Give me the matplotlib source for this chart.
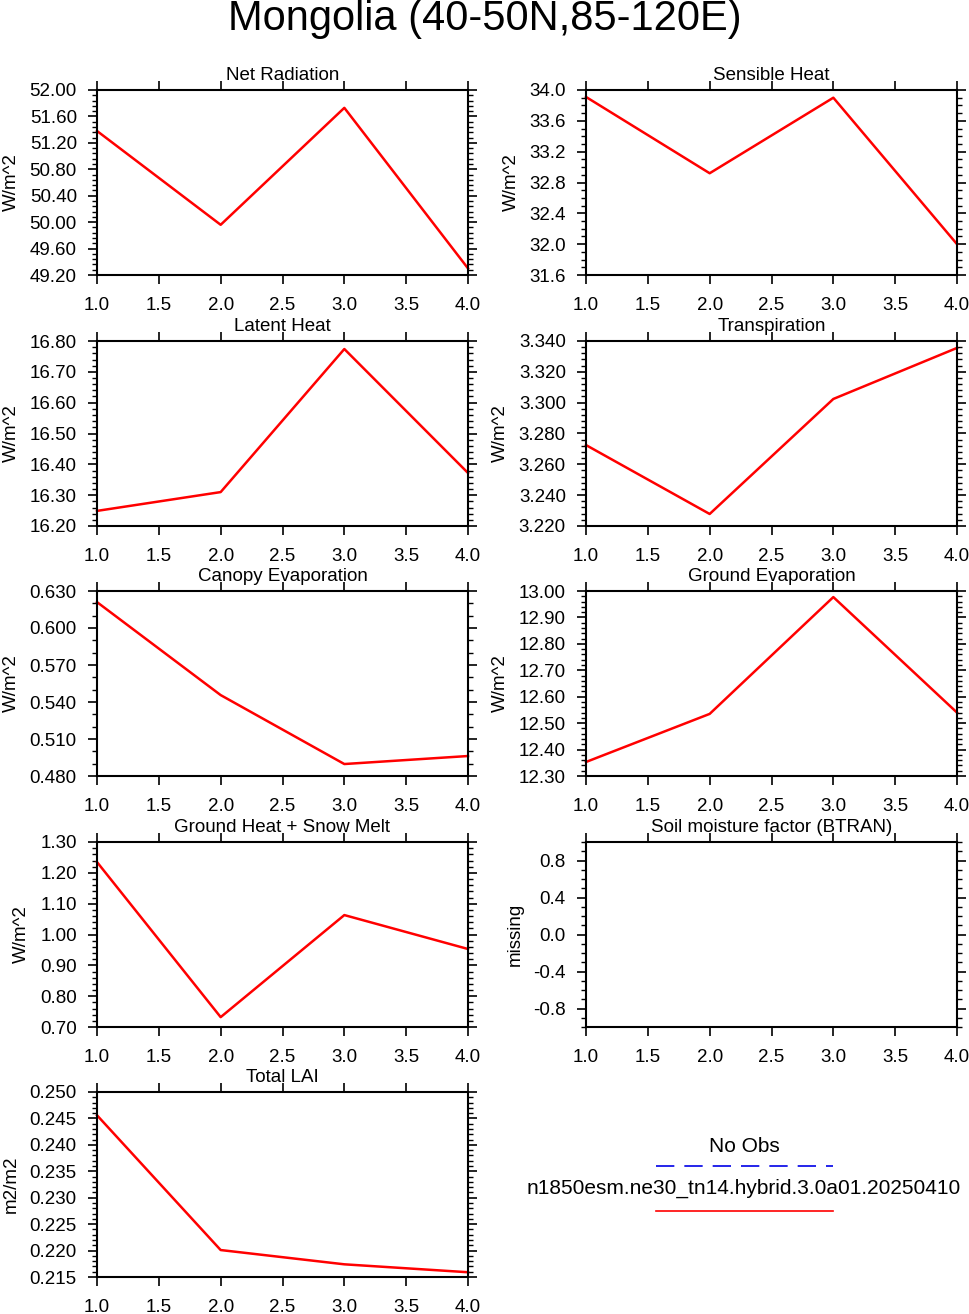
import matplotlib
matplotlib.use("Agg")
import matplotlib.pyplot as plt
import matplotlib.ticker as ticker
from matplotlib.lines import Line2D

plt.rcParams['font.family'] = ['Liberation Sans', 'DejaVu Sans']

# x axis (time step) shared by all panels
x_vals = [1.0, 2.0, 3.0, 4.0]
x_ticks = [1.0, 1.5, 2.0, 2.5, 3.0, 3.5, 4.0]

# series values
net_radiation = [51.38, 49.96, 51.73, 49.30]
sensible_heat = [33.91, 32.92, 33.90, 32.00]
latent_heat = [16.249, 16.310, 16.774, 16.372]
transpiration = [3.2725, 3.2278, 3.3024, 3.3355]
canopy_evap = [0.621, 0.5456, 0.4897, 0.4962]
ground_evap = [12.353, 12.535, 12.977, 12.540]
ground_heat = [1.235, 0.732, 1.063, 0.953]
btran = []  # missing
total_lai = [0.2456, 0.2201, 0.2174, 0.2159]

titles = ["Net Radiation", "Sensible Heat", "Latent Heat", "Transpiration",
          "Canopy Evaporation", "Ground Evaporation", "Ground Heat + Snow Melt",
          "Soil moisture factor (BTRAN)", "Total LAI"]
units = ["W/m^2", "W/m^2", "W/m^2", "W/m^2", "W/m^2", "W/m^2", "W/m^2", "missing", "m2/m2"]
series = [net_radiation, sensible_heat, latent_heat, transpiration, canopy_evap,
          ground_evap, ground_heat, btran, total_lai]

# (ymin, ymax, major step, minor step, label format)
y_axes = [(49.2, 52.0, 0.4, 0.08, "%.2f"),
          (31.6, 34.0, 0.4, 0.1, "%.1f"),
          (16.2, 16.8, 0.1, 0.02, "%.2f"),
          (3.22, 3.34, 0.02, 0.004, "%.3f"),
          (0.48, 0.63, 0.03, 0.01, "%.3f"),
          (12.3, 13.0, 0.1, 0.02, "%.2f"),
          (0.7, 1.3, 0.1, 0.02, "%.2f"),
          (-1.0, 1.0, 0.4, 0.1, "%.1f"),
          (0.215, 0.25, 0.005, 0.001, "%.3f")]

fig = plt.figure(figsize=(9.69, 13.14), dpi=100)
W, H = 969.0, 1314.0

col_left = [97, 586]
row_top = [90, 341, 591, 842, 1092]
ax_w, ax_h = 371, 185

fig.text(0.5, 1 - 19 / H, "Mongolia (40-50N,85-120E)", ha='center', va='center', fontsize=30)

for i in range(len(series)):
    r, c = divmod(i, 2)
    ax = fig.add_axes([col_left[c] / W, 1 - (row_top[r] + ax_h) / H, ax_w / W, ax_h / H])
    ymin, ymax, major, minor, fmt = y_axes[i]

    if len(series[i]) > 0:
        ax.plot(x_vals, series[i], color='red', linewidth=1.8, clip_on=False)

    ax.set_xlim(1.0, 4.0)
    ax.set_ylim(ymin, ymax)
    ax.set_xticks(x_ticks)
    ax.xaxis.set_major_formatter(ticker.FormatStrFormatter("%.1f"))

    if titles[i].startswith("Soil"):
        ax.yaxis.set_major_locator(ticker.FixedLocator([-0.8, -0.4, 0.0, 0.4, 0.8]))
    else:
        ax.yaxis.set_major_locator(ticker.MultipleLocator(major))
    ax.yaxis.set_minor_locator(ticker.MultipleLocator(minor))
    ax.yaxis.set_major_formatter(ticker.FormatStrFormatter(fmt))

    ax.tick_params(which='both', direction='out', top=True, right=True, labelsize=13.5)
    ax.tick_params(which='major', length=6.5, width=1.2)
    ax.tick_params(which='minor', length=3.5, width=1.0)
    ax.tick_params(axis='x', pad=9)
    ax.tick_params(axis='y', pad=8)
    for sp in ax.spines.values():
        sp.set_linewidth(1.5)

    ax.set_ylabel(units[i], fontsize=13.5, labelpad=7)
    ax.text(0.5, 1.054, titles[i], transform=ax.transAxes, ha='center', va='baseline', fontsize=13.5)

# legend in the empty bottom-right slot
fig.text(744 / W, 1 - 1146 / H, "No Obs", ha='center', va='center', fontsize=15)
fig.add_artist(Line2D([656 / W, 833 / W], [1 - 1166 / H, 1 - 1166 / H], transform=fig.transFigure,
                      color='#0000e6', linewidth=1.2, dashes=(11, 6)))
fig.text(744 / W, 1 - 1188 / H, "n1850esm.ne30_tn14.hybrid.3.0a01.20250410", ha='center', va='center',
         fontsize=15)
fig.add_artist(Line2D([656 / W, 833 / W], [1 - 1211 / H, 1 - 1211 / H], transform=fig.transFigure,
                      color='red', linewidth=1.2))

fig.savefig("out.png", dpi=100)
